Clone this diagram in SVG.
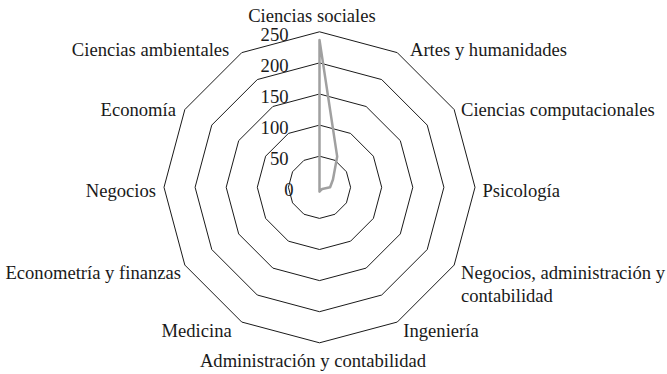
<svg xmlns="http://www.w3.org/2000/svg" width="667" height="374" viewBox="0 0 667 374">
<style>
  .ring{fill:none;stroke:#1a1a1a;stroke-width:1}
  .series{fill:none;stroke:#a0a0a0;stroke-width:2.5;stroke-linejoin:round}
  text{font-family:'Liberation Serif','Times New Roman',serif;font-size:18.6px;fill:#1a1a1a}
  .l{text-anchor:end}
  .r{text-anchor:start}
  .m{text-anchor:middle}
</style>
<rect width="667" height="374" fill="#ffffff"/>
<g id="grid">
  <polygon class="ring" points="319.5,156.2 335.05,160.37 346.43,171.75 350.6,187.3 346.43,202.85 335.05,214.23 319.5,218.4 303.95,214.23 292.57,202.85 288.4,187.3 292.57,171.75 303.95,160.37"/>
  <polygon class="ring" points="319.5,125.1 350.6,133.43 373.37,156.2 381.7,187.3 373.37,218.4 350.6,241.17 319.5,249.5 288.4,241.17 265.63,218.4 257.3,187.3 265.63,156.2 288.4,133.43"/>
  <polygon class="ring" points="319.5,94 366.15,106.5 400.3,140.65 412.8,187.3 400.3,233.95 366.15,268.1 319.5,280.6 272.85,268.1 238.7,233.95 226.2,187.3 238.7,140.65 272.85,106.5"/>
  <polygon class="ring" points="319.5,62.9 381.7,79.57 427.23,125.1 443.9,187.3 427.23,249.5 381.7,295.03 319.5,311.7 257.3,295.03 211.77,249.5 195.1,187.3 211.77,125.1 257.3,79.57"/>
  <polygon class="ring" points="319.5,31.8 397.25,52.63 454.17,109.55 475,187.3 454.17,265.05 397.25,322.05 319.5,342.8 241.75,322.05 184.83,265.05 164,187.3 184.83,109.55 241.75,52.63"/>
</g>
<g id="axis-values">
  <text class="l" x="288.5" y="40.5">250</text>
  <text class="l" x="288.5" y="71.6">200</text>
  <text class="l" x="288.5" y="102.7">150</text>
  <text class="l" x="288.5" y="133.8">100</text>
  <text class="l" x="288.5" y="164.9">50</text>
  <text class="l" x="293.5" y="196.3">0</text>
</g>
<g id="series">
  <polygon class="series" points="319.5,39.9 337.2,156.6 332.97,179.5 330.1,187.3 322.2,188.9 321.05,190 319.5,191.7 319.5,187.3 319.5,187.3 319.5,187.3 319.5,187.3 319.5,187.3"/>
</g>
<g id="category-labels">
  <text class="m" x="312" y="21.5">Ciencias sociales</text>
  <text class="r" x="410" y="56">Artes y humanidades</text>
  <text class="r" x="461" y="116">Ciencias computacionales</text>
  <text class="r" x="482.5" y="197">Psicología</text>
  <text class="r" x="461" y="279.3">Negocios, administración y</text>
  <text class="r" x="461" y="301.7">contabilidad</text>
  <text class="r" x="403.3" y="337.3">Ingeniería</text>
  <text class="m" x="313" y="367">Administración y contabilidad</text>
  <text class="l" x="231.7" y="337.3">Medicina</text>
  <text class="l" x="181" y="279.3">Econometría y finanzas</text>
  <text class="l" x="156" y="197">Negocios</text>
  <text class="l" x="176" y="116">Economía</text>
  <text class="l" x="229.3" y="56">Ciencias ambientales</text>
</g>
</svg>
